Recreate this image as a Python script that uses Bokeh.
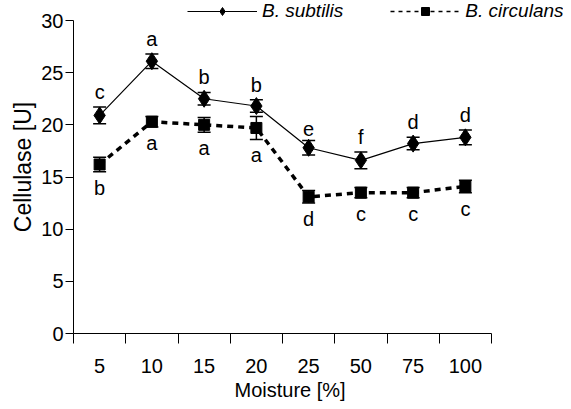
from bokeh.plotting import figure
from bokeh.models import (ColumnDataSource, Range1d, FixedTicker, Whisker, TeeHead,
                          Legend, LegendItem, Title)
from bokeh.core.properties import value
from bokeh.embed import file_html
from bokeh.resources import INLINE

# ---- data ----
moisture = ["5", "10", "15", "20", "25", "50", "75", "100"]
subtilis = [20.9, 26.1, 22.5, 21.8, 17.8, 16.6, 18.2, 18.8]
subtilis_err = [0.8, 0.7, 0.6, 0.6, 0.7, 0.8, 0.6, 0.7]
subtilis_letters = ["c", "a", "b", "b", "e", "f", "d", "d"]
circulans = [16.2, 20.3, 20.0, 19.7, 13.1, 13.5, 13.5, 14.1]
circulans_err = [0.7, 0.5, 0.7, 1.1, 0.6, 0.5, 0.5, 0.6]
circulans_letters = ["b", "a", "a", "a", "d", "c", "c", "c"]
y_ticks = [0, 5, 10, 15, 20, 25, 30]
y_max = 30

FONT = "Liberation Sans"

W, H = 563, 401
LEFT, BOTTOM = 73, 68
frame_w = W - LEFT
frame_h = H - BOTTOM
axis_px = 313           # pixel length of the 0..30 y axis
cat_px = 52.25          # pixel width of one moisture category

xs = list(range(1, len(moisture) + 1))
src_s = ColumnDataSource(dict(x=xs, y=subtilis,
                              upper=[v + e for v, e in zip(subtilis, subtilis_err)],
                              lower=[v - e for v, e in zip(subtilis, subtilis_err)],
                              t=subtilis_letters))
src_c = ColumnDataSource(dict(x=xs, y=circulans,
                              upper=[v + e for v, e in zip(circulans, circulans_err)],
                              lower=[v - e for v, e in zip(circulans, circulans_err)],
                              t=circulans_letters))

x_end = 0.5 + frame_w / cat_px
p = figure(width=W, height=H,
           x_range=Range1d(0.5, x_end),
           y_range=Range1d(0, y_max * frame_h / axis_px),
           output_backend="svg", toolbar_location=None,
           min_border_left=LEFT, min_border_right=0, min_border_top=0,
           min_border_bottom=BOTTOM)
p.outline_line_color = None
p.xgrid.visible = False
p.ygrid.visible = False

# lines
p.line("x", "y", source=src_s, line_color="black", line_width=1.2)
p.line("x", "y", source=src_c, line_color="black", line_width=3.5, line_dash="6 5")

# error bars
for src in (src_s, src_c):
    w = Whisker(source=src, base="x", upper="upper", lower="lower", dimension="height",
                line_color="black", line_width=1.5,
                upper_head=TeeHead(size=13, line_width=1.5, line_color="black"),
                lower_head=TeeHead(size=13, line_width=1.5, line_color="black"))
    w.level = "underlay"
    p.add_layout(w)

p.scatter("x", "y", source=src_s, marker="diamond", size=17,
          fill_color="black", line_color="black")
p.scatter("x", "y", source=src_c, marker="square", size=11,
          fill_color="black", line_color="black")

# letters
p.text("x", "upper", text="t", source=src_s, text_align="center", text_baseline="bottom",
       y_offset=-4, text_font=value(FONT), text_font_size="20px", text_color="black")
p.text("x", "lower", text="t", source=src_c, text_align="center", text_baseline="top",
       y_offset=5, text_font=value(FONT), text_font_size="20px", text_color="black")

# axes
xa = p.xaxis[0]
xa.bounds = (0.5, len(moisture) + 0.5)
xa.ticker = FixedTicker(ticks=xs, minor_ticks=[i + 0.5 for i in range(len(moisture) + 1)])
xa.major_label_overrides = {x: m for x, m in zip(xs, moisture)}
xa.major_tick_line_color = None
xa.major_tick_out = 10
xa.major_tick_in = 0
xa.minor_tick_out = 10
xa.minor_tick_in = 0
xa.minor_tick_line_color = "black"
xa.major_label_standoff = 15

ya = p.yaxis[0]
ya.bounds = (0, y_max)
ya.ticker = FixedTicker(ticks=y_ticks, minor_ticks=[])
ya.major_tick_out = 8
ya.major_tick_in = 0
ya.major_label_standoff = 2
ya.axis_label = "Cellulase [U]"
ya.axis_label_standoff = 2
ya.axis_label_text_font_size = "23px"

for ax in (xa, ya):
    ax.axis_line_color = "black"
    ax.major_label_text_font = FONT
    ax.major_label_text_font_size = "20px"
    ax.major_label_text_color = "black"
    ax.axis_label_text_font = FONT
    ax.axis_label_text_font_style = "normal"
    ax.axis_label_text_color = "black"

# x axis title, aligned under the category span
xt = Title(text="Moisture [%]", align="left", offset=161, standoff=2,
           text_font=FONT, text_font_size="20px", text_font_style="normal",
           text_color="black")
p.add_layout(xt, "below")

# legend-only renderers (placed outside the visible ranges)
off_x, off_y = [-10], [-10]
leg_s_line = p.line(off_x, off_y, line_color="black", line_width=1.2)
leg_s_mk = p.scatter(off_x, off_y, marker="diamond", size=14, fill_color="black",
                     line_color="black")
leg_c_line = p.line(off_x, off_y, line_color="black", line_width=1.6, line_dash="4 4")
leg_c_mk = p.scatter(off_x, off_y, marker="square", size=10, fill_color="black",
                     line_color="black")

legend = Legend(items=[LegendItem(label="B. subtilis", renderers=[leg_s_line, leg_s_mk]),
                       LegendItem(label="B. circulans", renderers=[leg_c_line, leg_c_mk])],
                orientation="horizontal", location=(114, frame_h - 22),
                glyph_width=70, glyph_height=20, label_height=20, label_standoff=5,
                spacing=47, padding=0, margin=0, border_line_color=None,
                background_fill_alpha=0,
                label_text_font=FONT, label_text_font_size="19px",
                label_text_font_style="italic", label_text_color="black")
p.add_layout(legend)

open("out.html", "w").write(file_html(p, INLINE))
